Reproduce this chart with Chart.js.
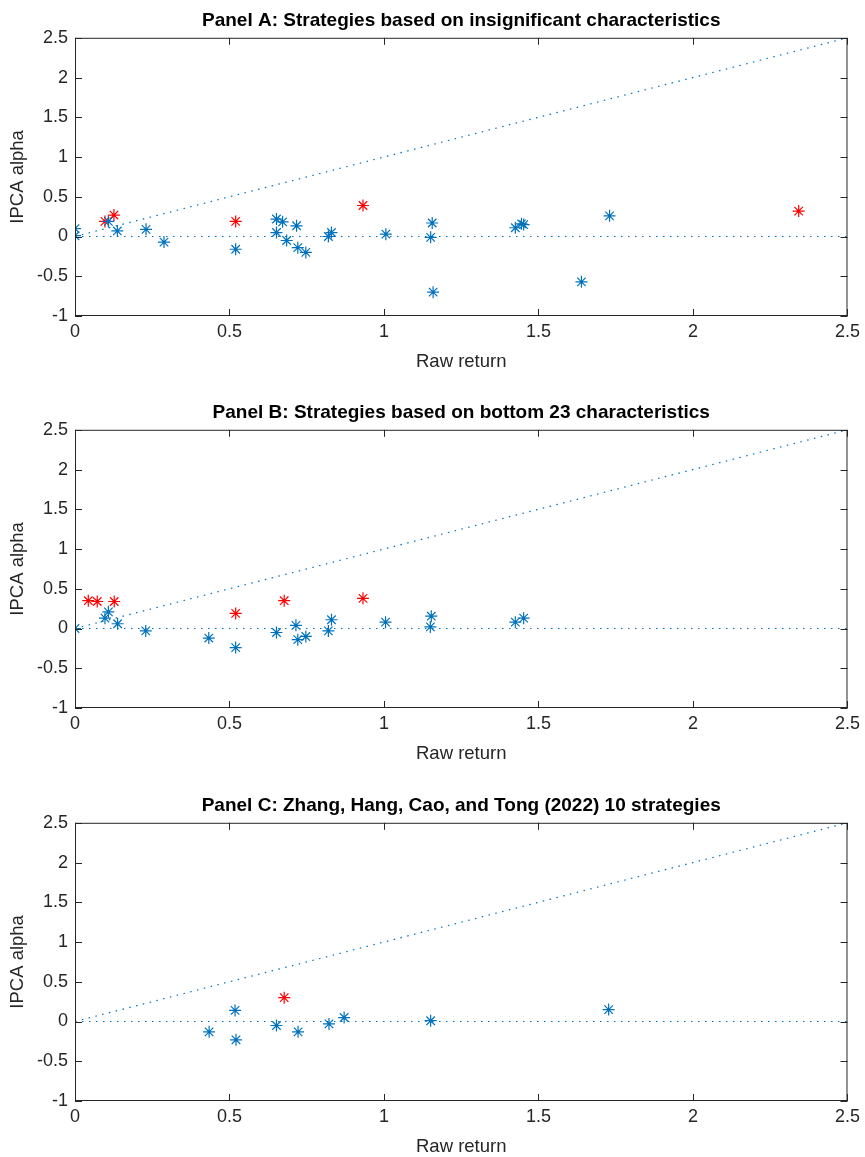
<!DOCTYPE html>
<html>
<head>
<meta charset="utf-8">
<script src="https://cdn.jsdelivr.net/npm/chart.js@4.4.1/dist/chart.umd.min.js"></script>
<style>
  html, body { margin: 0; padding: 0; background: #fff; overflow: hidden; }
  body { width: 865px; height: 1157px; position: relative; }
  canvas { position: absolute; left: 0; }
</style>
</head>
<body>
<canvas id="panelA" width="865" height="392" style="top:0px"></canvas>
<canvas id="panelB" width="865" height="392" style="top:392px"></canvas>
<canvas id="panelC" width="865" height="392" style="top:785px"></canvas>
<script>
// axis ticks
const xTicks = [0, 0.5, 1, 1.5, 2, 2.5];
const yTicks = [-1, -0.5, 0, 0.5, 1, 1.5, 2, 2.5];

// reference lines: 45 degree line and zero line
const refX = [0, 2.5];
const diagY = [0, 2.5];
const zeroY = [0, 0];

// Panel A
const aBlueX = [0, 0, 0.108, 0.137, 0.23, 0.288, 0.52, 0.652, 0.672, 0.652, 0.685, 0.717, 0.721, 0.747, 0.82, 0.83, 1.006, 1.156, 1.151, 1.159, 1.425, 1.445, 1.452, 1.639, 1.73];
const aBlueY = [0.10, 0.01, 0.19, 0.07, 0.09, -0.07, -0.16, 0.22, 0.185, 0.05, -0.05, 0.135, -0.14, -0.20, 0.0, 0.05, 0.03, 0.17, -0.01, -0.70, 0.11, 0.16, 0.15, -0.57, 0.26];
const aRedX = [0.097, 0.126, 0.52, 0.932, 2.342];
const aRedY = [0.19, 0.27, 0.19, 0.39, 0.32];

// Panel B
const bBlueX = [0, 0.097, 0.108, 0.138, 0.229, 0.433, 0.52, 0.652, 0.715, 0.721, 0.747, 0.82, 0.83, 1.005, 1.153, 1.15, 1.425, 1.452];
const bBlueY = [0, 0.13, 0.21, 0.06, -0.03, -0.12, -0.24, -0.05, 0.04, -0.14, -0.10, -0.03, 0.11, 0.08, 0.155, 0.02, 0.08, 0.13];
const bRedX = [0.043, 0.072, 0.127, 0.52, 0.677, 0.932];
const bRedY = [0.35, 0.34, 0.34, 0.19, 0.35, 0.38];

// Panel C
const cBlueX = [0.434, 0.518, 0.521, 0.652, 0.722, 0.822, 0.871, 1.151, 1.727];
const cBlueY = [-0.13, 0.14, -0.23, -0.05, -0.13, -0.03, 0.05, 0.01, 0.15];
const cRedX = [0.677];
const cRedY = [0.30];

const blue = '#0072BD';
const red = '#FF0000';
const axisColor = '#262626';
const fontFamily = 'Liberation Sans, Arial, sans-serif';

function zip(xs, ys) {
  return xs.map(function(x, i) { return { x: x, y: ys[i] }; });
}

// MATLAB style box with inward ticks
const boxPlugin = {
  id: 'box',
  afterDraw: function(chart) {
    let ctx = chart.ctx;
    let a = chart.chartArea;
    let xs = chart.scales.x, ys = chart.scales.y;
    let len = 7;
    ctx.save();
    ctx.strokeStyle = axisColor;
    ctx.lineWidth = 1;
    ctx.strokeRect(a.left + 0.5, a.top + 0.5, a.right - a.left - 1, a.bottom - a.top - 1);
    ctx.beginPath();
    xTicks.forEach(function(v) {
      let px = Math.round(xs.getPixelForValue(v)) + 0.5;
      ctx.moveTo(px, a.bottom); ctx.lineTo(px, a.bottom - len);
      ctx.moveTo(px, a.top); ctx.lineTo(px, a.top + len);
    });
    yTicks.forEach(function(v) {
      let py = Math.round(ys.getPixelForValue(v)) + 0.5;
      ctx.moveTo(a.left, py); ctx.lineTo(a.left + len, py);
      ctx.moveTo(a.right, py); ctx.lineTo(a.right - len, py);
    });
    ctx.stroke();
    ctx.restore();
  }
};

function makePanel(id, title, blueX, blueY, redX, redY) {
  let canvas = document.getElementById(id);
  let h = canvas.height;
  let markers = function(xs, ys, color) {
    return {
      type: 'scatter', data: zip(xs, ys),
      pointStyle: 'star', pointRadius: 6, pointBorderWidth: 1.2,
      borderColor: color, backgroundColor: color, showLine: false
    };
  };
  let dotted = function(ys) {
    return {
      type: 'line', data: zip(refX, ys),
      borderColor: blue, borderWidth: 1.2, borderDash: [1.5, 5.5],
      pointRadius: 0, fill: false, tension: 0
    };
  };

  return new Chart(canvas, {
    type: 'scatter',
    data: {
      datasets: [
        dotted(diagY),
        dotted(zeroY),
        markers(blueX, blueY, blue),
        markers(redX, redY, red)
      ]
    },
    options: {
      responsive: false,
      animation: false,
      devicePixelRatio: 1,
      layout: { padding: { top: 0, left: 0, right: 17, bottom: 0 } },
      plugins: {
        legend: { display: false },
        tooltip: { enabled: false },
        title: {
          display: true, text: title, fullSize: false,
          color: '#000',
          font: { family: fontFamily, size: 19, weight: 'bold' },
          padding: { top: 9, bottom: 6 }
        }
      },
      scales: {
        x: {
          type: 'linear', min: 0, max: 2.5,
          grid: { display: false, drawTicks: false }, border: { display: false },
          afterBuildTicks: function(s) { s.ticks = xTicks.map(function(v) { return { value: v }; }); },
          afterFit: function(s) { s.height = h - 316; },
          ticks: {
            color: axisColor, padding: 5, maxRotation: 0,
            font: { family: fontFamily, size: 18 },
            callback: function(v) { return String(v); }
          },
          title: {
            display: true, text: 'Raw return', color: axisColor,
            font: { family: fontFamily, size: 18.5 },
            padding: { top: 0, bottom: 19 }
          }
        },
        y: {
          type: 'linear', min: -1, max: 2.5,
          grid: { display: false, drawTicks: false }, border: { display: false },
          afterBuildTicks: function(s) { s.ticks = yTicks.map(function(v) { return { value: v }; }); },
          afterFit: function(s) { s.width = 75; },
          ticks: {
            color: axisColor, padding: 7,
            font: { family: fontFamily, size: 18 },
            callback: function(v) { return String(v); }
          },
          title: {
            display: true, text: 'IPCA alpha', color: axisColor,
            font: { family: fontFamily, size: 18.5 },
            padding: { top: 7, bottom: 0 }
          }
        }
      }
    },
    plugins: [boxPlugin]
  });
}

makePanel('panelA', 'Panel A: Strategies based on insignificant characteristics', aBlueX, aBlueY, aRedX, aRedY);
makePanel('panelB', 'Panel B: Strategies based on bottom 23 characteristics', bBlueX, bBlueY, bRedX, bRedY);
makePanel('panelC', 'Panel C: Zhang, Hang, Cao, and Tong (2022) 10 strategies', cBlueX, cBlueY, cRedX, cRedY);
</script>
</body>
</html>
